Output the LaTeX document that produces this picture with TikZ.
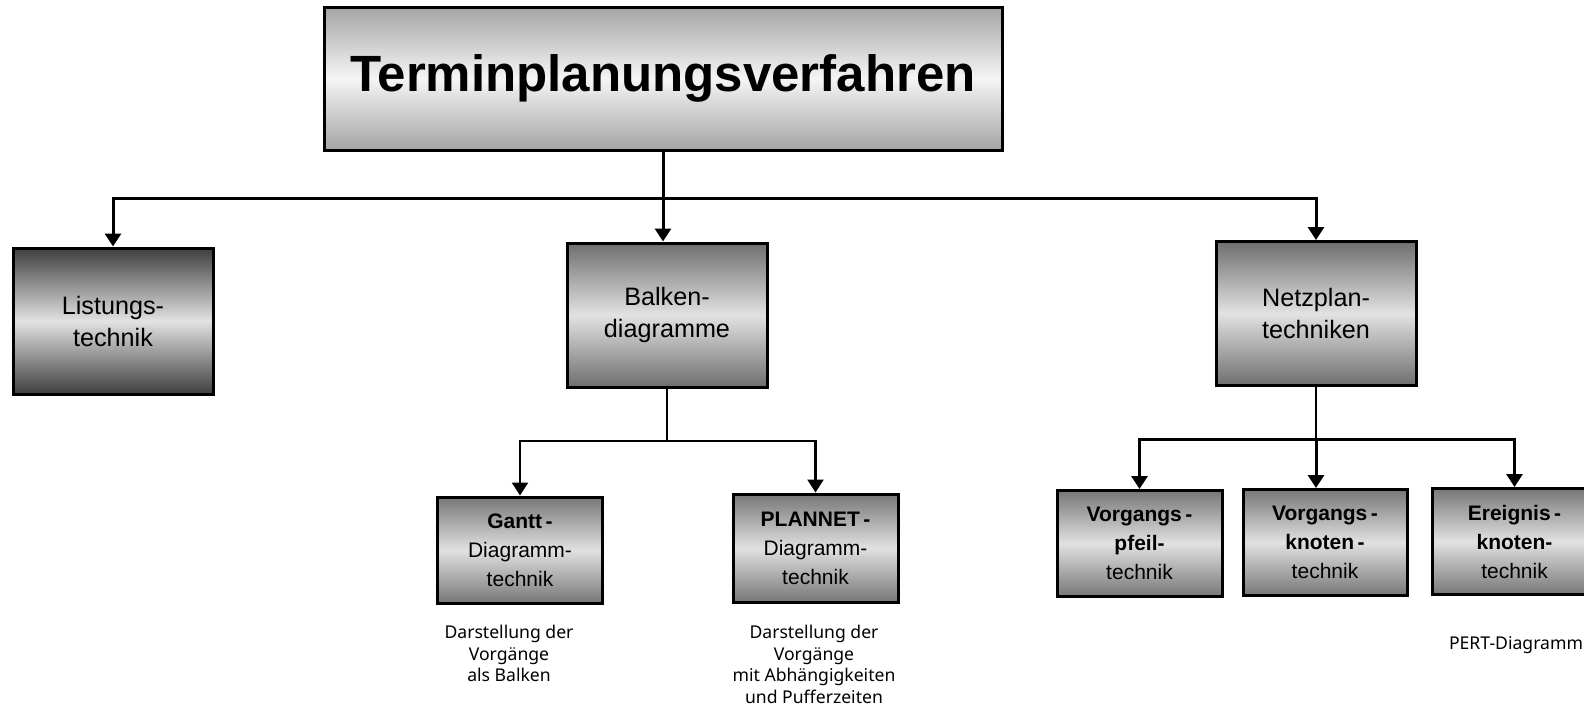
\documentclass[tikz,border=0pt]{standalone}
\usepackage{fontspec}
\setmainfont{Liberation Sans}
\newfontfamily\notefont{Noto Sans}
\usepackage{tikz}
\usetikzlibrary{arrows.meta,positioning}
\definecolor{bandtitle}{HTML}{A4A4A4}
\definecolor{banddark}{HTML}{3E3E3E}
\definecolor{bandmid}{HTML}{6E6E6E}
\definecolor{bandsub}{HTML}{777777}
\definecolor{bandlight}{HTML}{E2E2E2}
\tikzset{
  topblock/.style={
    draw=black,
    line width=1.5pt,
    top color=bandtitle,
    bottom color=bandtitle,
    middle color=white!96!black,
    minimum width=339pt,
    minimum height=71.5pt,
    inner sep=0pt,
    font=\bfseries\fontsize{25.5}{30}\selectfont
  },
  block/.style={
    draw=black,
    line width=1.5pt,
    top color=bandmid,
    bottom color=bandmid,
    middle color=bandlight,
    align=center,
    minimum width=100pt,
    minimum height=72pt,
    inner sep=0pt,
    font=\fontsize{12.6}{16}\selectfont
  },
  subblock/.style={
    draw=black,
    line width=1.5pt,
    top color=bandsub,
    bottom color=bandsub,
    middle color=bandlight!105,
    align=center,
    minimum width=82.5pt,
    minimum height=53pt,
    inner sep=0pt,
    font=\fontsize{10.5}{14.5}\selectfont
  },
  line/.style={-{Triangle[width=8pt,length=6.5pt]}, line width=1.5pt},
  thinline/.style={line width=1.1pt},
  smallnote/.style={font=\notefont\fontsize{8.8}{10.75}\selectfont, align=center, inner sep=0pt}
}
\begin{document}
\begin{tikzpicture}[x=0.5pt,y=-0.5pt]
\useasboundingbox (0,0) rectangle (1584,712);

\node[topblock] (plan) at (663,78.5) {Terminplanungsverfahren};
\node[block, top color=banddark, bottom color=banddark, middle color=bandlight, minimum height=73pt] (listung) at (113,321) {Listungs-\\technik};
\node[block] (balken) at (667,315) {Balken-\\diagramme};
\node[block] (netz) at (1316,313.5) {Netzplan-\\techniken};

\node[subblock] (gantt) at (520,550) {\textbf{Gantt\,-}\\Diagramm-\\technik};
\node[subblock, minimum height=54pt] (plannet) at (815.5,548) {\textbf{PLANNET\,-}\\Diagramm-\\technik};
\node[subblock] (vpfeil) at (1139.5,543.5) {\textbf{Vorgangs\,-}\\\textbf{pfeil-}\\technik};
\node[subblock, minimum width=82pt] (vknoten) at (1325,542.5) {\textbf{Vorgangs\,-}\\\textbf{knoten\,-}\\technik};
\node[subblock] (eknoten) at (1514.5,541.5) {\textbf{Ereignis\,-}\\\textbf{knoten-}\\technik};

\node[smallnote, anchor=north] (ganttnote) at (509,625) {Darstellung der\\Vorgänge\\als Balken};
\node[smallnote, anchor=north] (plannetnote) at (814,625) {Darstellung der\\Vorgänge\\mit Abhängigkeiten\\und Pufferzeiten};
\node[smallnote, anchor=base] (pertnote) at (1516,649) {PERT-Diagramm};

\coordinate (topbus) at (663,198);
\coordinate (balkbus) at (667,441);
\coordinate (netzbus) at (1316,439);

\draw[line] (plan.south) -- (plan.south |- balken.north);
\draw[line] (topbus) -| (listung.north);
\draw[line] (topbus) -| (netz.north);

\draw[thinline] (balken.south) -- (balkbus);
\draw[line, line width=1.2pt] (balkbus) -| (gantt.north);
\draw[line, line width=1.2pt] (balkbus) -| (plannet.north);

\draw[thinline] (netz.south) -- (netzbus);
\draw[line] (netzbus) -| (vpfeil.north);
\draw[line] (netzbus) -- (netzbus |- vknoten.north);
\draw[line] (netzbus) -| (eknoten.north);
\end{tikzpicture}
\end{document}
